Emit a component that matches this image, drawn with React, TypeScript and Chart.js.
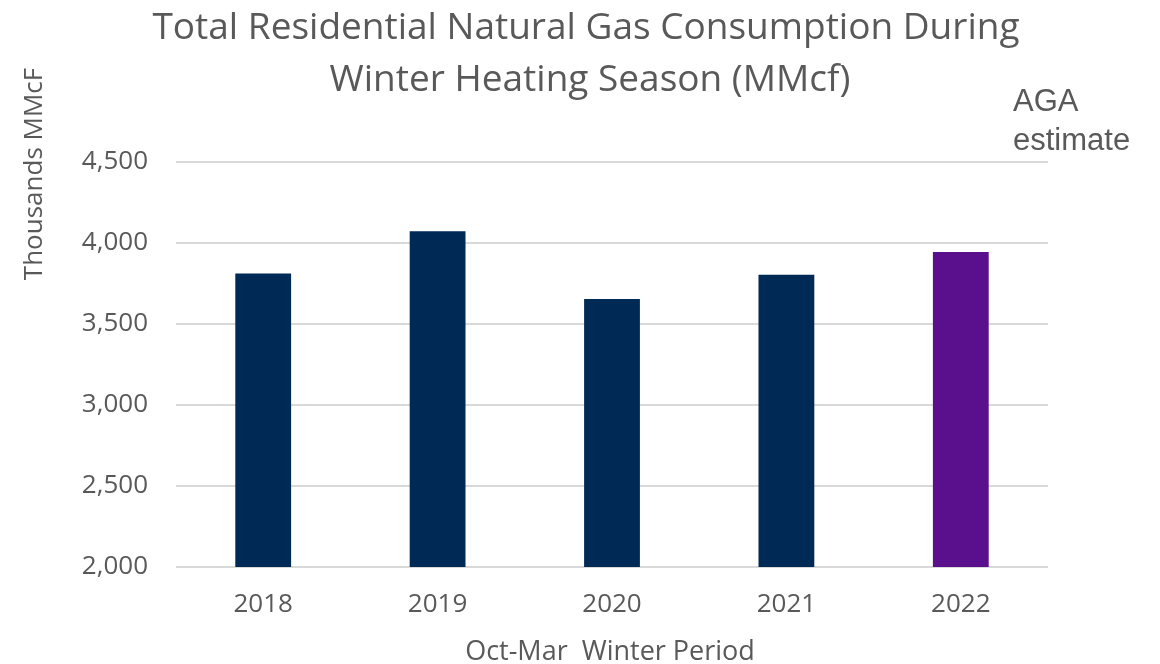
import React, { useEffect, useRef } from "react";
import { Chart, registerables } from "chart.js";

Chart.register(...registerables);

const categories = ["2018", "2019", "2020", "2021", "2022"];
const consumption = [3812, 4072, 3654, 3804, 3944];
const barColors = ["#002a56", "#002a56", "#002a56", "#002a56", "#5a108c"];
const titleLines = ["Total Residential Natural Gas Consumption During", "Winter Heating Season (MMcf)"];
const yAxisTitle = "Thousands MMcF";
const xAxisTitle = "Oct-Mar  Winter Period";
const noteLines = ["AGA", "estimate"];
const yMin = 2000;
const yMax = 4500;
const yStep = 500;

const TEXT = "#595959";
const FONT = "'Open Sans', sans-serif";

const textPlugin = {
  id: "customText",
  afterDraw(chart: any) {
    const ctx = chart.ctx;
    ctx.save();
    ctx.fillStyle = TEXT;
    ctx.textAlign = "center";
    ctx.textBaseline = "alphabetic";
    ctx.font = `37px ${FONT}`;
    ctx.fillText(titleLines[0], 586, 39);
    ctx.fillText(titleLines[1], 590, 91);

    ctx.font = `27px ${FONT}`;
    ctx.fillText(xAxisTitle, 610, 660);

    ctx.save();
    ctx.translate(42, 174);
    ctx.rotate(-Math.PI / 2);
    ctx.font = `26px ${FONT}`;
    ctx.fillText(yAxisTitle, 0, 0);
    ctx.restore();

    ctx.textAlign = "left";
    ctx.font = `31px 'Liberation Sans', Arial, sans-serif`;
    ctx.fillText(noteLines[0], 1013, 111);
    ctx.fillText(noteLines[1], 1013, 150);
    ctx.restore();
  },
};

export default function App() {
  const ref = useRef<HTMLCanvasElement | null>(null);

  useEffect(() => {
    if (!ref.current) return;
    const chart = new Chart(ref.current, {
      type: "bar",
      data: {
        labels: categories,
        datasets: [
          {
            data: consumption,
            backgroundColor: barColors,
            borderWidth: 0,
            categoryPercentage: 1,
            barPercentage: 0.32,
          },
        ],
      },
      options: {
        animation: false,
        responsive: false,
        devicePixelRatio: 1,
        layout: { padding: { top: 162, right: 112, left: 0, bottom: 0 } },
        plugins: {
          legend: { display: false },
          tooltip: { enabled: false },
          title: { display: false },
        },
        scales: {
          x: {
            grid: { display: false, drawTicks: false },
            border: { display: false },
            ticks: {
              color: TEXT,
              font: { family: FONT, size: 26 },
              padding: 22,
              maxRotation: 0,
            },
            afterFit(scale: any) {
              scale.height = 97;
            },
          },
          y: {
            min: yMin,
            max: yMax,
            grid: { color: "#d9d9d9", lineWidth: 2, drawTicks: false },
            border: { display: false },
            ticks: {
              stepSize: yStep,
              color: TEXT,
              font: { family: FONT, size: 26 },
              padding: 28,
              callback: (v: any) => Number(v).toLocaleString("en-US"),
            },
            afterFit(scale: any) {
              scale.width = 176;
            },
          },
        },
      },
      plugins: [textPlugin],
    });
    return () => chart.destroy();
  }, []);

  return (
    <div style={{ position: "absolute", left: 0, top: 0, width: 1160, height: 664, background: "#ffffff" }}>
      <canvas ref={ref} width={1160} height={664} style={{ display: "block" }} />
    </div>
  );
}
